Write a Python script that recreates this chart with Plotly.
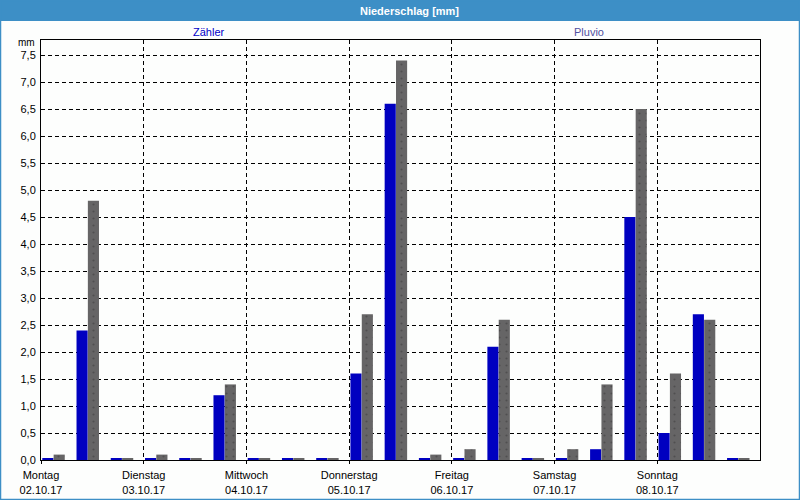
import plotly.graph_objects as go

# ---- data ----
days = ["2017-10-02", "2017-10-03", "2017-10-04", "2017-10-05",
        "2017-10-06", "2017-10-07", "2017-10-08"]
day_names = ["Montag", "Dienstag", "Mittwoch", "Donnerstag",
             "Freitag", "Samstag", "Sonntag"]
day_labels = ["02.10.17", "03.10.17", "04.10.17", "05.10.17",
              "06.10.17", "07.10.17", "08.10.17"]
bin_starts = ["00:00", "08:00", "16:00"]

zaehler = [0.02, 2.4, 0.02,  0.02, 0.02, 1.2,  0.02, 0.02, 0.02,
           1.6, 6.6, 0.02,   0.02, 2.1, 0.02,  0.02, 0.2, 4.5,
           0.5, 2.7, 0.02]
pluvio = [0.1, 4.8, 0.02,   0.1, 0.02, 1.4,   0.02, 0.02, 0.02,
          2.7, 7.4, 0.1,    0.2, 2.6, 0.02,   0.2, 1.4, 6.5,
          1.6, 2.6, 0.02]

x = [f"{d} {h}" for d in days for h in bin_starts]

HOUR = 3600 * 1000
FONT = "Liberation Sans"

fig = go.Figure()
fig.add_trace(go.Bar(
    x=x, y=zaehler, name="Zähler",
    offset=0.3 * HOUR, width=2.6 * HOUR,
    marker=dict(color="#0000c0", line=dict(width=0)),
    showlegend=False,
))
fig.add_trace(go.Bar(
    x=x, y=pluvio, name="Pluvio",
    offset=2.95 * HOUR, width=2.6 * HOUR,
    marker=dict(color="#666566", line=dict(width=0),
                pattern=dict(shape=".", fillmode="overlay", fgcolor="#3a3a3a",
                             size=7, solidity=0.08)),
    showlegend=False,
))

L, R, T, B = 41, 40, 40, 40
W, H = 800, 500
pw, ph = W - L - R, H - T - B


def px_x(p):
    return (p - L) / pw


def px_y(p):
    return (H - B - p) / ph


fig.update_layout(
    width=W, height=H,
    margin=dict(l=L, r=R, t=T, b=B),
    paper_bgcolor="#fdfefd",
    plot_bgcolor="#fdfefd",
    barmode="overlay",
    separators=",.",
    font=dict(family=FONT, size=11, color="black"),
    xaxis=dict(
        type="date",
        range=["2017-10-02 00:00", "2017-10-09 00:00"],
        tickvals=[f"{d} 00:00" for d in days],
        ticktext=[f"{n}<br>{d}" for n, d in zip(day_names, day_labels)],
        tickangle=0,
        showgrid=True, gridcolor="black", gridwidth=1, griddash="4px,3px",
        showline=True, linecolor="black", linewidth=1, mirror=True,
        ticks="outside", ticklen=3, tickcolor="black",
        ticklabelstandoff=2,
        automargin=False,
        zeroline=False,
    ),
    yaxis=dict(
        range=[0, 7.78],
        dtick=0.5, tick0=0,
        tickformat=".1f",
        showgrid=True, gridcolor="black", gridwidth=1, griddash="4px,3px",
        showline=True, linecolor="black", linewidth=1, mirror=True,
        ticks="", ticklabelstandoff=2,
        automargin=False,
        zeroline=False,
    ),
    shapes=[
        dict(type="rect", xref="paper", yref="paper",
             x0=px_x(0), x1=px_x(800), y0=px_y(21), y1=px_y(0),
             fillcolor="#3d8fc6", line=dict(width=0), layer="above"),
        dict(type="rect", xref="paper", yref="paper",
             x0=px_x(0.5), x1=px_x(799.5), y0=px_y(499.5), y1=px_y(0.5),
             fillcolor="rgba(0,0,0,0)", line=dict(width=1.5, color="#3d8fc6"),
             layer="above"),
    ],
    annotations=[
        dict(text="<b>Niederschlag [mm]</b>", xref="paper", yref="paper",
             x=px_x(409), y=px_y(11), showarrow=False,
             font=dict(color="white", size=11, family=FONT),
             xanchor="center", yanchor="middle"),
        dict(text="Zähler", xref="paper", yref="paper",
             x=px_x(209), y=px_y(32), showarrow=False,
             font=dict(color="#0000c8", size=11, family=FONT),
             xanchor="center", yanchor="middle"),
        dict(text="Pluvio", xref="paper", yref="paper",
             x=px_x(589), y=px_y(32), showarrow=False,
             font=dict(color="#5050a0", size=11, family=FONT),
             xanchor="center", yanchor="middle"),
        dict(text="mm", xref="paper", yref="paper",
             x=px_x(37), y=px_y(43), showarrow=False,
             font=dict(color="black", size=10, family=FONT),
             xanchor="right", yanchor="middle"),
    ],
)

fig.write_html("out.html")
